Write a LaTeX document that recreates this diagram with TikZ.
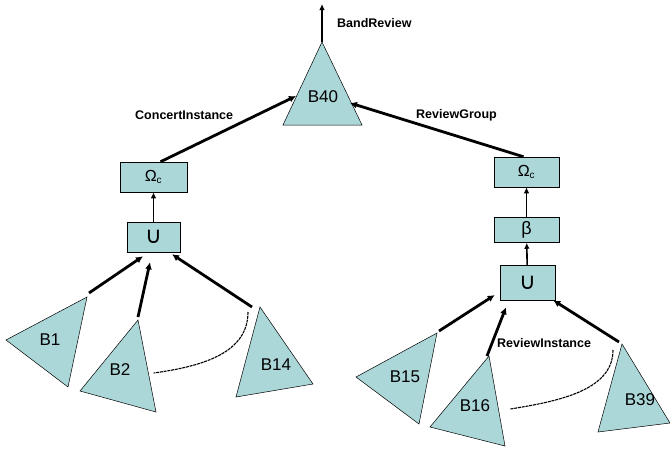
\documentclass[tikz,border=0pt]{standalone}
\usepackage{fontspec}
\setmainfont{Liberation Sans}
\newfontfamily\symfont{DejaVu Sans}
\usetikzlibrary{arrows.meta}
\definecolor{paleteal}{RGB}{172,215,217}

\begin{document}
\begin{tikzpicture}[x=1pt,y=-1pt,
    tri/.style={draw, fill=paleteal, line width=0.5pt},
    tlab/.style={font=\fontsize{17}{17}\selectfont, inner sep=0pt},
    blk/.style={draw, fill=paleteal, line width=0.5pt, inner sep=0pt, font=\fontsize{16}{16}\selectfont},
    link/.style={line width=2.8pt, -{Latex[length=7pt,width=7pt]}},
    slink/.style={line width=1.6pt, -{Latex[length=6pt,width=5.5pt]}},
    elab/.style={font=\fontsize{12.5}{12.5}\selectfont\bfseries, anchor=west, inner sep=0pt},
    loop/.style={line width=1.1pt, dash pattern=on 3pt off 0.8pt}]
\useasboundingbox (0,0) rectangle (670,451);

% top tree
\filldraw[tri] (322,42) -- (283,125) -- (362,125) -- cycle;
\node[tlab] (b40) at (323,97) {B40};
\coordinate (b40top) at (322,42);
\coordinate (b40w) at (296,96);
\coordinate (b40e) at (350,103);
\coordinate (out) at (322,4);
\draw[slink, line width=2.4pt] (b40top) -- (out);
\node[elab] (lbBand) at (337,23) {BandReview};

% left branch
\node[blk, minimum width=67pt, minimum height=30pt] (omL) at (153.5,177) {Ω\textsubscript{\fontsize{10}{10}\selectfont c}};
\node[blk, minimum width=53pt, minimum height=30pt] (unL) at (153.5,237) {\symfont\fontsize{23}{23}\selectfont ∪};
\draw[slink] (unL) -- (omL);
\draw[link] ([xshift=7pt]omL.north) -- (b40w);
\node[elab] (lbConcert) at (135,115) {ConcertInstance};

\filldraw[tri] (87,297) -- (6,340) -- (68,387) -- cycle;
\node[tlab] (b1) at (50,340) {B1};
\filldraw[tri] (138,320) -- (80,391) -- (156,412) -- cycle;
\node[tlab] (b2) at (120,370) {B2};
\filldraw[tri] (260,307) -- (236,397) -- (313,384) -- cycle;
\node[tlab] (b14) at (276,365) {B14};
\coordinate (b1tip) at (89,293);
\coordinate (b2tip) at (138,317);
\coordinate (b14tip) at (252,307);
\draw[link] (b1tip) -- ([xshift=-10.5pt,yshift=-4pt]unL.south);
\draw[link] (b2tip) -- ([xshift=-3.5pt,yshift=-10pt]unL.south);
\draw[link] (b14tip) -- ([xshift=18.5pt,yshift=-2pt]unL.south);
\coordinate (dotL) at (248,312);
\draw[loop] (dotL) .. controls (248,352) and (205,366) .. ([xshift=23pt,yshift=-3pt]b2.east);

% right branch
\node[blk, minimum width=65pt, minimum height=30pt] (omR) at (526.5,172) {Ω\textsubscript{\fontsize{10}{10}\selectfont c}};
\node[blk, minimum width=65pt, minimum height=25pt] (beR) at (526.5,230) {\fontsize{18}{18}\selectfont β};
\node[blk, minimum width=55pt, minimum height=35pt] (unR) at (527.5,282.5) {\symfont\fontsize{23}{23}\selectfont ∪};
\draw[slink] (unR) -- (beR);
\draw[slink] (beR) -- (omR);
\draw[link] ([xshift=-3pt]omR.north) -- (b40e);
\node[elab] (lbGroup) at (416,115) {ReviewGroup};

\filldraw[tri] (437,333) -- (356,377) -- (419,424) -- cycle;
\node[tlab] (b15) at (405,377) {B15};
\filldraw[tri] (489,356) -- (430,427) -- (505,446) -- cycle;
\node[tlab] (b16) at (475,406) {B16};
\filldraw[tri] (622,344) -- (598,432) -- (670,423) -- cycle;
\node[tlab] (b39) at (640,400) {B39};
\coordinate (b15tip) at (439,331);
\coordinate (b16tip) at (487,356);
\coordinate (b39tip) at (619,342);
\draw[link] (b15tip) -- ([xshift=-5pt,yshift=-12.5pt]unR.west);
\draw[link] (b16tip) -- ([xshift=-21.5pt,yshift=-7pt]unR.south);
\draw[link] (b39tip) -- ([xshift=-2pt]unR.south east);
\node[elab] (lbInst) at (497,343) {ReviewInstance};
\coordinate (dotR) at (613,350);
\draw[loop] (dotR) .. controls (613,390) and (560,401) .. ([xshift=20pt,yshift=-3pt]b16.east);
\end{tikzpicture}
\end{document}
